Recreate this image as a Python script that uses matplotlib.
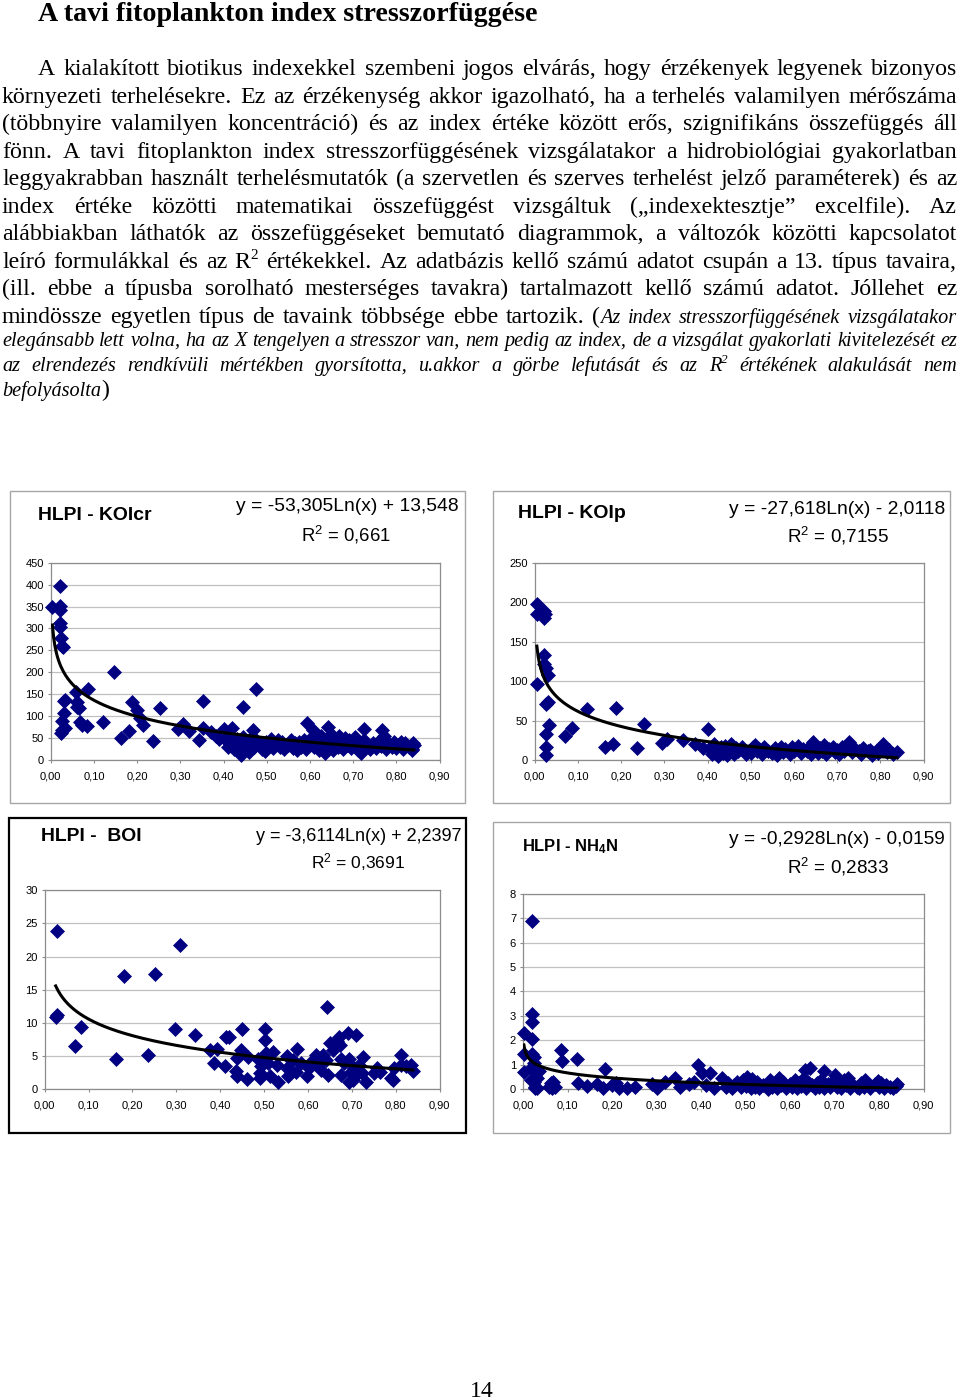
import numpy as np
import matplotlib
matplotlib.use('Agg')
import matplotlib.pyplot as plt
from matplotlib.patches import Rectangle
from matplotlib.ticker import FuncFormatter, MultipleLocator

W, H = 960, 1400
SERIF = 'Liberation Serif'
SANS = 'Liberation Sans'
plt.rcParams['font.family'] = SANS
plt.rcParams['mathtext.fontset'] = 'custom'
plt.rcParams['mathtext.rm'] = SANS
plt.rcParams['mathtext.it'] = SANS + ':italic'
plt.rcParams['mathtext.bf'] = SANS + ':bold'

# ---------------- data ----------------
# HLPI - KOIcr
koicr_x = [0.004, 0.021, 0.021, 0.022, 0.021, 0.022, 0.024, 0.027, 0.029, 0.031, 0.033, 0.031, 0.025, 0.026,
           0.024, 0.032, 0.059, 0.062, 0.066, 0.060, 0.068, 0.072, 0.087, 0.083, 0.122, 0.146, 0.163, 0.182,
           0.187, 0.199, 0.207, 0.213, 0.236, 0.254, 0.295, 0.305, 0.320, 0.344, 0.353, 0.353, 0.372, 0.383,
           0.389, 0.401, 0.419, 0.410, 0.414, 0.440, 0.446, 0.475, 0.467, 0.594, 0.608, 0.642, 0.726, 0.766,
           0.838, 0.837,
           0.405, 0.410, 0.415, 0.420, 0.425, 0.430, 0.433, 0.438, 0.445, 0.450, 0.452, 0.458, 0.460, 0.463,
           0.470, 0.475, 0.480, 0.490, 0.495, 0.498, 0.505, 0.510, 0.515, 0.520, 0.525, 0.530, 0.535, 0.540,
           0.548, 0.555, 0.560, 0.565, 0.570, 0.575, 0.580, 0.585, 0.590, 0.598, 0.603, 0.610, 0.615, 0.620,
           0.625, 0.630, 0.635, 0.640, 0.643, 0.648, 0.652, 0.655, 0.660, 0.665, 0.668, 0.672, 0.676, 0.680,
           0.685, 0.690, 0.695, 0.700, 0.705, 0.710, 0.713, 0.718, 0.720, 0.725, 0.730, 0.738, 0.745, 0.752,
           0.758, 0.765, 0.770, 0.775, 0.780, 0.790, 0.795, 0.800, 0.805, 0.810, 0.815, 0.820, 0.828, 0.835,
           0.840]
koicr_y = [350, 397, 351, 342, 312, 304, 279, 260, 258, 134, 136, 108, 88, 68,
           62, 72, 156, 133, 118, 121, 86, 80, 161, 77, 87, 200, 51, 67,
           132, 115, 95, 80, 43, 119, 70, 82, 66, 46, 135, 72, 63, 55,
           47, 70, 72, 55, 36, 11, 122, 163, 68, 85, 68, 76, 71, 68,
           38, 25,
           45, 30, 55, 38, 25, 48, 20, 35, 52, 28, 42, 18, 35, 50,
           30, 45, 38, 25, 20, 42, 33, 48, 28, 38, 45, 30, 40, 25,
           35, 45, 28, 38, 22, 42, 30, 45, 25, 38, 50, 30, 42, 22,
           55, 35, 15, 28, 45, 60, 22, 38, 48, 30, 55, 40, 25, 50,
           35, 45, 28, 38, 52, 22, 40, 15, 30, 45, 35, 25, 38, 28,
           42, 32, 55, 25, 38, 30, 40, 28, 35, 42, 25, 38, 30, 22,
           35]
koicr_coef = [-53.305, 13.548]
koicr_title = 'HLPI - KOIcr'
koicr_eq = 'y = -53,305Ln(x) + 13,548'
koicr_r2 = 'R$^2$ = 0,661'

# HLPI - KOIp
koip_x = [0.005, 0.005, 0.022, 0.023, 0.022, 0.006, 0.022, 0.022, 0.025, 0.030, 0.025, 0.030, 0.033, 0.025,
          0.025, 0.025, 0.070, 0.086, 0.122, 0.163, 0.182, 0.187, 0.236, 0.254, 0.295, 0.305, 0.342, 0.372,
          0.390, 0.400,
          0.405, 0.410, 0.415, 0.420, 0.425, 0.430, 0.435, 0.440, 0.445, 0.450, 0.455, 0.460, 0.465, 0.470,
          0.480, 0.490, 0.495, 0.500, 0.505, 0.510, 0.515, 0.520, 0.525, 0.530, 0.540, 0.550, 0.555, 0.560,
          0.565, 0.570, 0.575, 0.580, 0.590, 0.595, 0.600, 0.610, 0.615, 0.620, 0.630, 0.635, 0.640, 0.645,
          0.650, 0.655, 0.660, 0.665, 0.670, 0.675, 0.680, 0.690, 0.695, 0.700, 0.705, 0.710, 0.715, 0.720,
          0.728, 0.735, 0.740, 0.750, 0.755, 0.760, 0.770, 0.775, 0.780, 0.790, 0.795, 0.800, 0.805, 0.810,
          0.815, 0.820, 0.830, 0.838]
koip_y = [198, 185, 189, 185, 180, 96, 133, 122, 117, 108, 71, 73, 44, 33,
          16, 6, 30, 40, 64, 17, 20, 66, 15, 45, 22, 26, 25, 20,
          15, 39,
          15, 8, 20, 12, 5, 16, 9, 18, 6, 13, 20, 8, 15, 11,
          17, 7, 12, 9, 16, 19, 11, 14, 8, 17, 12, 9, 15, 6,
          12, 17, 10, 14, 8, 16, 12, 18, 9, 14, 11, 16, 7, 23,
          13, 9, 15, 11, 19, 8, 14, 17, 10, 13, 7, 16, 11, 18,
          23, 10, 14, 12, 8, 15, 11, 13, 6, 12, 9, 14, 20, 15,
          10, 13, 8, 10]
koip_coef = [-27.618, -2.0118]
koip_title = 'HLPI - KOIp'
koip_eq = 'y = -27,618Ln(x) - 2,0118'
koip_r2 = 'R$^2$ = 0,7155'

# HLPI - BOI
boi_x = [0.029, 0.025, 0.027, 0.068, 0.082, 0.163, 0.181, 0.235, 0.252, 0.298, 0.308, 0.342, 0.376, 0.386,
         0.393, 0.410, 0.414, 0.420, 0.439, 0.437, 0.438, 0.450, 0.448, 0.461, 0.463, 0.486, 0.490, 0.491,
         0.493, 0.503, 0.503, 0.505, 0.508, 0.513, 0.521, 0.530, 0.531, 0.553, 0.553, 0.555, 0.565, 0.575,
         0.573, 0.585, 0.598, 0.603, 0.611, 0.619, 0.623, 0.630, 0.634, 0.644, 0.641, 0.645, 0.649, 0.656,
         0.665, 0.670, 0.672, 0.674, 0.675, 0.682, 0.692, 0.694, 0.694, 0.698, 0.705, 0.710, 0.702, 0.708,
         0.716, 0.725, 0.722, 0.732, 0.751, 0.757, 0.764, 0.788, 0.793, 0.797, 0.811, 0.812, 0.823, 0.835,
         0.839]
boi_y = [23.9, 10.9, 11.2, 6.5, 9.4, 4.5, 17.1, 5.2, 17.4, 9.1, 21.7, 8.2, 5.9, 4.0,
         6.1, 3.4, 7.9, 7.9, 4.7, 2.7, 1.9, 9.1, 5.9, 1.5, 4.9, 4.6, 2.4, 1.6,
         3.4, 9.1, 7.4, 5.4, 3.9, 1.9, 5.6, 3.6, 1.1, 5.0, 3.1, 1.9, 4.4, 6.1,
         2.6, 3.9, 1.9, 3.1, 4.4, 5.1, 3.6, 2.9, 5.1, 12.4, 4.4, 2.1, 6.9, 5.9,
         7.2, 7.8, 6.6, 4.6, 2.1, 3.9, 8.4, 4.6, 1.1, 2.6, 3.1, 8.2, 1.4, 1.9,
         3.6, 4.9, 2.4, 1.1, 2.4, 3.1, 2.6, 1.6, 1.4, 3.1, 5.2, 3.6, 3.4, 3.6,
         2.7]
boi_coef = [-3.6114, 2.2397]
boi_title = 'HLPI -  BOI'
boi_eq = 'y = -3,6114Ln(x) + 2,2397'
boi_r2 = 'R$^2$ = 0,3691'

# HLPI - NH4N
nh4n_x = [0.002, 0.003, 0.003, 0.020, 0.020, 0.020, 0.020, 0.021, 0.024, 0.024, 0.019, 0.017, 0.024, 0.027,
          0.031, 0.035, 0.031, 0.028, 0.032, 0.058, 0.062, 0.065, 0.068, 0.072, 0.085, 0.087, 0.121, 0.124,
          0.143, 0.166, 0.184, 0.180, 0.200, 0.210, 0.215, 0.234, 0.252, 0.290, 0.300, 0.320, 0.342, 0.353,
          0.372, 0.383, 0.392, 0.402, 0.420, 0.410, 0.430, 0.446, 0.633, 0.645, 0.677, 0.700, 0.731, 0.769,
          0.797, 0.840,
          0.455, 0.460, 0.470, 0.475, 0.480, 0.490, 0.495, 0.500, 0.503, 0.508, 0.512, 0.515, 0.520, 0.525,
          0.530, 0.540, 0.550, 0.555, 0.560, 0.565, 0.570, 0.575, 0.580, 0.585, 0.590, 0.600, 0.605, 0.610,
          0.615, 0.620, 0.625, 0.630, 0.635, 0.640, 0.650, 0.655, 0.660, 0.665, 0.670, 0.675, 0.685, 0.690,
          0.695, 0.705, 0.710, 0.715, 0.720, 0.725, 0.735, 0.740, 0.750, 0.755, 0.760, 0.765, 0.775, 0.780,
          0.790, 0.800, 0.805, 0.810, 0.815, 0.825, 0.830, 0.838]
nh4n_y = [0.68, 1.42, 2.28, 6.90, 3.07, 2.76, 2.03, 1.43, 1.30, 1.05, 0.85, 0.37, 0.30, 0.10,
          0.68, 0.72, 0.44, 0.05, 0.05, 0.10, 0.25, 0.05, 0.28, 0.08, 1.60, 1.16, 1.22, 0.26,
          0.12, 0.19, 0.80, 0.05, 0.16, 0.23, 0.05, 0.05, 0.10, 0.19, 0.05, 0.30, 0.44, 0.10,
          0.19, 0.30, 1.00, 0.64, 0.64, 0.15, 0.05, 0.44, 0.78, 0.85, 0.74, 0.57, 0.44, 0.37,
          0.33, 0.19,
          0.10, 0.25, 0.05, 0.15, 0.30, 0.08, 0.35, 0.12, 0.50, 0.20, 0.05, 0.40, 0.10, 0.28,
          0.05, 0.15, 0.02, 0.35, 0.10, 0.25, 0.05, 0.45, 0.15, 0.30, 0.05, 0.20, 0.10, 0.35,
          0.05, 0.25, 0.12, 0.40, 0.05, 0.30, 0.15, 0.05, 0.25, 0.10, 0.35, 0.05, 0.20, 0.08,
          0.30, 0.10, 0.25, 0.05, 0.35, 0.15, 0.05, 0.20, 0.10, 0.05, 0.25, 0.08, 0.15, 0.05,
          0.20, 0.08, 0.25, 0.05, 0.15, 0.08, 0.05, 0.12]
nh4n_coef = [-0.2928, -0.0159]
nh4n_title = 'HLPI - NH$_\\mathbf{4}$N'
nh4n_eq = 'y = -0,2928Ln(x) - 0,0159'
nh4n_r2 = 'R$^2$ = 0,2833'

# ---------------- page text ----------------
page_title = 'A tavi fitoplankton index stresszorfüggése'
body_runs = [
    [('A kialakított biotikus indexekkel szembeni jogos elvárás, hogy érzékenyek legyenek bizonyos', 'n')],
    [('környezeti terhelésekre. Ez az érzékenység akkor igazolható, ha a terhelés valamilyen mérőszáma', 'n')],
    [('(többnyire valamilyen koncentráció) és az index értéke között erős, szignifikáns összefüggés áll', 'n')],
    [('fönn. A tavi fitoplankton index stresszorfüggésének vizsgálatakor a hidrobiológiai gyakorlatban', 'n')],
    [('leggyakrabban használt terhelésmutatók (a szervetlen és szerves terhelést jelző paraméterek) és az', 'n')],
    [('index értéke közötti matematikai összefüggést vizsgáltuk („indexektesztje” excelfile). Az', 'n')],
    [('alábbiakban láthatók az összefüggéseket bemutató diagrammok, a változók közötti kapcsolatot', 'n')],
    [('leíró formulákkal és az R', 'n'), ('2', 'sup'),
     (' értékekkel. Az adatbázis kellő számú adatot csupán a 13. típus tavaira,', 'n')],
    [('(ill. ebbe a típusba sorolható mesterséges tavakra) tartalmazott kellő számú adatot. Jóllehet ez', 'n')],
    [('mindössze egyetlen típus de tavaink többsége ebbe tartozik. (', 'n'),
     ('Az index stresszorfüggésének vizsgálatakor', 'i')],
    [('elegánsabb lett volna, ha az X tengelyen a stresszor van, nem pedig az index, de a vizsgálat '
      'gyakorlati kivitelezését ez', 'i')],
    [('az elrendezés rendkívüli mértékben gyorsította, u.akkor a görbe lefutását és az R', 'i'), ('2', 'isup'),
     (' értékének alakulását nem', 'i')],
    [('befolyásolta', 'i'), (')', 'n')],
]
page_number = '14'

# ---------------- layout ----------------
line_x0 = [38] + [2] * 12
line_base = [75, 103, 130, 158, 185, 213, 240, 268, 295, 323, 346, 371, 396]
STYLES = {
    'n': dict(family=SERIF, size=17.2),
    'i': dict(family=SERIF, size=14.6, style='italic'),
    'sup': dict(family=SERIF, size=11, rise=9),
    'isup': dict(family=SERIF, size=9.5, style='italic', rise=8),
}

fig = plt.figure(figsize=(W / 100, H / 100), dpi=100)
fig.patch.set_facecolor('white')
renderer = fig.canvas.get_renderer()


def fxy(x, y):
    return x / W, 1 - y / H


def add_text(x, y, s, **kw):
    fx, fy = fxy(x, y)
    return fig.text(fx, fy, s, **kw)


def width(t):
    return t.get_window_extent(renderer=renderer).width


def fit_text(x0, x1, y, s, va='center', **kw):
    t = add_text((x0 + x1) / 2, y, s, ha='center', va=va, **kw)
    t.set_fontsize(t.get_fontsize() * (x1 - x0) / width(t))
    return t


def runs_to_words(runs):
    words = [[]]
    for txt, st in runs:
        parts = txt.split(' ')
        for k, p in enumerate(parts):
            if k > 0:
                words.append([])
            if p:
                words[-1].append((p, st))
    return [w for w in words if w]


def draw_line(runs, x0, x1, base, justify):
    placed = []
    for word in runs_to_words(runs):
        segs = []
        for txt, st in word:
            kw = dict(STYLES[st])
            rise = kw.pop('rise', 0)
            t = add_text(0, base - rise, txt, ha='left', va='baseline', **kw)
            segs.append((t, width(t), base - rise))
        placed.append(segs)
    total = sum(w for segs in placed for _, w, _ in segs)
    if justify and len(placed) > 1:
        gap = (x1 - x0 - total) / (len(placed) - 1)
    else:
        gap = 5.5
    x = x0
    for segs in placed:
        for t, w, yb in segs:
            t.set_position(fxy(x, yb))
            x += w
        x += gap


# page title and body
fit_text(38, 537, 21, page_title, va='baseline', family=SERIF, fontsize=20, fontweight='bold')
for i, runs in enumerate(body_runs):
    draw_line(runs, line_x0[i], 957, line_base[i], justify=(i < len(body_runs) - 1))
add_text(481.5, 1397, page_number, family=SERIF, fontsize=17, ha='center', va='baseline')


def frame(x0, y0, x1, y1, color, lw):
    fx, fy = fxy(x0, y1)
    fig.add_artist(Rectangle((fx, fy), (x1 - x0) / W, (y1 - y0) / H, transform=fig.transFigure,
                             fill=False, ec=color, lw=lw))


def chart(box, xs, ys, coef, ymax, ystep):
    l, t, r, b = box
    ax = fig.add_axes([l / W, 1 - b / H, (r - l) / W, (b - t) / H])
    ax.set_xlim(0, 0.9)
    ax.set_ylim(0, ymax)
    ax.xaxis.set_major_locator(MultipleLocator(0.1))
    ax.yaxis.set_major_locator(MultipleLocator(ystep))
    ax.xaxis.set_major_formatter(FuncFormatter(lambda v, p: f'{v:.2f}'.replace('.', ',')))
    ax.yaxis.set_major_formatter(FuncFormatter(lambda v, p: f'{v:g}'))
    ax.grid(axis='y', color='#c0c0c0', lw=0.9)
    ax.set_axisbelow(True)
    for s in ax.spines.values():
        s.set_color('#8c8c8c')
        s.set_linewidth(0.9)
    ax.tick_params(length=2.5, width=0.8, color='#8c8c8c', labelsize=8, pad=2.5)
    ax.tick_params(axis='x', pad=5.5)
    ax.plot(xs, ys, ls='none', marker='D', ms=7, mfc='#000080', mec='#000080', mew=0.5,
            clip_on=False, zorder=3)
    xt = np.linspace(min(xs), max(xs), 300)
    ax.plot(xt, coef[0] * np.log(xt) + coef[1], color='black', lw=2.2, zorder=4)
    return ax


# chart frames
frame(10, 491, 465, 803, '#a6a6a6', 1.0)
frame(493, 491, 950, 803, '#a6a6a6', 1.0)
frame(9, 818, 466, 1133, 'black', 1.6)
frame(493, 822, 950, 1133, '#a6a6a6', 1.0)

chart((50.7, 562.7, 439.7, 760), koicr_x, koicr_y, koicr_coef, 450, 50)
chart((534.7, 562.7, 923.7, 760), koip_x, koip_y, koip_coef, 250, 50)
chart((44.7, 890.3, 439.7, 1089), boi_x, boi_y, boi_coef, 30, 5)
chart((523, 893.7, 923.7, 1089), nh4n_x, nh4n_y, nh4n_coef, 8, 1)

fit_text(38, 152, 515, koicr_title, fontsize=13.5, fontweight='bold')
fit_text(236, 458, 507, koicr_eq, fontsize=14)
fit_text(301, 391, 535, koicr_r2, fontsize=14)

fit_text(518, 626, 513, koip_title, fontsize=13.5, fontweight='bold')
fit_text(729, 945, 509, koip_eq, fontsize=14)
fit_text(787, 889, 536, koip_r2, fontsize=14)

fit_text(41, 142, 836, boi_title, fontsize=13.5, fontweight='bold')
fit_text(256, 461, 836, boi_eq, fontsize=13)
fit_text(311, 405, 862, boi_r2, fontsize=13)

fit_text(522, 618, 847, nh4n_title, fontsize=12, fontweight='bold')
fit_text(729, 945, 839, nh4n_eq, fontsize=14)
fit_text(787, 889, 867, nh4n_r2, fontsize=14)

fig.savefig('out.png', dpi=100)
